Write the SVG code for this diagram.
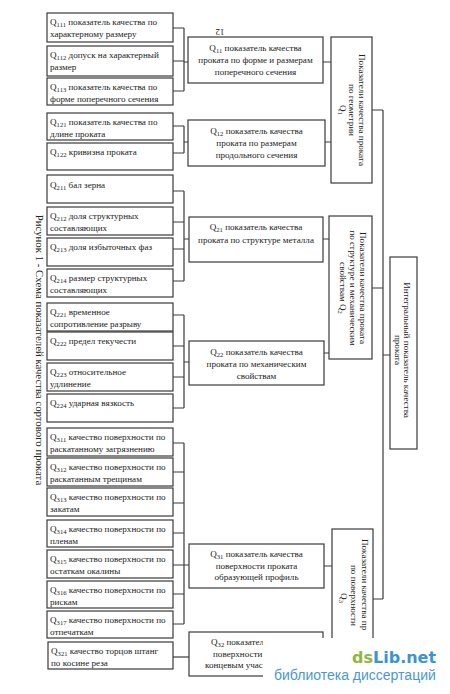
<svg xmlns="http://www.w3.org/2000/svg" width="450" height="694" viewBox="0 0 450 694">
<style>
.b{fill:#fff;stroke:#3a3a3a;stroke-width:1.2}
.c{fill:none;stroke:#3a3a3a;stroke-width:1.2}
text{font-family:"Liberation Serif","DejaVu Serif",serif;font-size:9.1px;fill:#222}
.m{text-anchor:middle}
.s{font-size:6.6px}
.cap{font-size:10.8px}
.wm1{font-family:"DejaVu Sans","Liberation Sans",sans-serif;font-weight:bold;font-size:16px}
.g{fill:#8cb83e}
.bl{fill:#3d94cf}
.wm2{font-family:"Liberation Sans","DejaVu Sans",sans-serif;font-size:14px;fill:#4a98d2}
</style>
<rect width="450" height="694" fill="#fff"/>

<g id="caption">
<text class="cap m" transform="translate(40,350) rotate(90)" y="4">Рисунок 1 - Схема показателей качества сортового проката</text>
</g>
<g id="pagenum"><text class="m" transform="translate(220,32) rotate(180)" y="3.5">12</text></g>

<g id="connectors">
<path class="c" d="M173,28H184M173,61H184M173,91H184M184,28V91M184,62H188"/>
<path class="c" d="M173,126H184M173,153H184M184,126V153M184,142H188"/>
<path class="c" d="M173,191H184M173,222H184M173,249H184M173,281H184M184,191V281M184,239H189"/>
<path class="c" d="M173,315H184M173,346H184M173,377H184M173,408H184M184,315V408M184,362H189"/>
<path class="c" d="M173,443H184M173,472H184M173,503H184M173,533H184M173,565H184M173,594H184M173,624H184M184,443V624M184,565H189"/>
<path class="c" d="M173,657H189"/>
<path class="c" d="M323,62H331M325,142H331M323,239H329M324,353H329M324,566H332"/>
<path class="c" d="M372,110H383M372,288H383M383,355H390M373,599H383M383,110V599"/>
</g>

<g id="Q111"><rect class="b" x="47" y="13" width="126" height="29"/><text x="50" y="25">Q<tspan class="s" dy="2">111</tspan><tspan dy="-2"> показатель качества по</tspan></text><text x="50" y="37">характерному размеру</text></g>
<g id="Q112"><rect class="b" x="47" y="46" width="126" height="30"/><text x="50" y="58">Q<tspan class="s" dy="2">112</tspan><tspan dy="-2"> допуск на характерный</tspan></text><text x="50" y="70">размер</text></g>
<g id="Q113"><rect class="b" x="47" y="78" width="126" height="27"/><text x="50" y="90">Q<tspan class="s" dy="2">113</tspan><tspan dy="-2"> показатель качества по</tspan></text><text x="50" y="102">форме поперечного сечения</text></g>
<g id="Q121"><rect class="b" x="47" y="113" width="126" height="27"/><text x="50" y="125">Q<tspan class="s" dy="2">121</tspan><tspan dy="-2"> показатель качества по</tspan></text><text x="50" y="137">длине проката</text></g>
<g id="Q122"><rect class="b" x="47" y="143" width="126" height="27"/><text x="50" y="155">Q<tspan class="s" dy="2">122</tspan><tspan dy="-2"> кривизна проката</tspan></text></g>
<g id="Q211"><rect class="b" x="47" y="175" width="126" height="28"/><text x="50" y="188">Q<tspan class="s" dy="2">211</tspan><tspan dy="-2"> бал зерна</tspan></text></g>
<g id="Q212"><rect class="b" x="47" y="207" width="126" height="28"/><text x="50" y="219">Q<tspan class="s" dy="2">212</tspan><tspan dy="-2"> доля структурных</tspan></text><text x="50" y="231">составляющих</text></g>
<g id="Q213"><rect class="b" x="47" y="238" width="126" height="28"/><text x="50" y="250">Q<tspan class="s" dy="2">213</tspan><tspan dy="-2"> доля избыточных фаз</tspan></text></g>
<g id="Q214"><rect class="b" x="47" y="269" width="126" height="28"/><text x="50" y="281">Q<tspan class="s" dy="2">214</tspan><tspan dy="-2"> размер структурных</tspan></text><text x="50" y="293">составляющих</text></g>
<g id="Q221"><rect class="b" x="47" y="303" width="126" height="28"/><text x="50" y="315">Q<tspan class="s" dy="2">221</tspan><tspan dy="-2"> временное</tspan></text><text x="50" y="327">сопротивление разрыву</text></g>
<g id="Q222"><rect class="b" x="47" y="332" width="126" height="28"/><text x="50" y="344">Q<tspan class="s" dy="2">222</tspan><tspan dy="-2"> предел текучести</tspan></text></g>
<g id="Q223"><rect class="b" x="47" y="363" width="126" height="28"/><text x="50" y="375">Q<tspan class="s" dy="2">223</tspan><tspan dy="-2"> относительное</tspan></text><text x="50" y="387">удлинение</text></g>
<g id="Q224"><rect class="b" x="47" y="394" width="126" height="28"/><text x="50" y="406">Q<tspan class="s" dy="2">224</tspan><tspan dy="-2"> ударная вязкость</tspan></text></g>
<g id="Q311"><rect class="b" x="47" y="428" width="126" height="28"/><text x="50" y="440">Q<tspan class="s" dy="2">311</tspan><tspan dy="-2"> качество поверхности по</tspan></text><text x="50" y="452">раскатанному загрязнению</text></g>
<g id="Q312"><rect class="b" x="47" y="458" width="126" height="28"/><text x="50" y="470">Q<tspan class="s" dy="2">312</tspan><tspan dy="-2"> качество поверхности по</tspan></text><text x="50" y="482">раскатанным трещинам</text></g>
<g id="Q313"><rect class="b" x="47" y="488" width="126" height="28"/><text x="50" y="500">Q<tspan class="s" dy="2">313</tspan><tspan dy="-2"> качество поверхности по</tspan></text><text x="50" y="512">закатам</text></g>
<g id="Q314"><rect class="b" x="47" y="520" width="126" height="27"/><text x="50" y="532">Q<tspan class="s" dy="2">314</tspan><tspan dy="-2"> качество поверхности по</tspan></text><text x="50" y="544">пленам</text></g>
<g id="Q315"><rect class="b" x="47" y="550" width="126" height="28"/><text x="50" y="562">Q<tspan class="s" dy="2">315</tspan><tspan dy="-2"> качество поверхности по</tspan></text><text x="50" y="574">остаткам окалины</text></g>
<g id="Q316"><rect class="b" x="47" y="581" width="126" height="27"/><text x="50" y="593">Q<tspan class="s" dy="2">316</tspan><tspan dy="-2"> качество поверхности по</tspan></text><text x="50" y="605">рискам</text></g>
<g id="Q317"><rect class="b" x="47" y="611" width="126" height="27"/><text x="50" y="623">Q<tspan class="s" dy="2">317</tspan><tspan dy="-2"> качество поверхности по</tspan></text><text x="50" y="635">отпечаткам</text></g>
<g id="Q321"><rect class="b" x="48" y="642" width="125" height="27"/><text x="51" y="654">Q<tspan class="s" dy="2">321</tspan><tspan dy="-2"> качество торцов штанг</tspan></text><text x="51" y="666">по косине реза</text></g>

<g id="Q11"><rect class="b" x="188" y="37" width="135" height="46"/><text class="m" x="255.5" y="51">Q<tspan class="s" dy="2">11</tspan><tspan dy="-2"> показатель качества</tspan></text><text class="m" x="255.5" y="63">проката по форме и размерам</text><text class="m" x="255.5" y="75">поперечного сечения</text></g>
<g id="Q12"><rect class="b" x="188" y="120" width="137" height="46"/><text class="m" x="256.5" y="134">Q<tspan class="s" dy="2">12</tspan><tspan dy="-2"> показатель качества</tspan></text><text class="m" x="256.5" y="146">проката по размерам</text><text class="m" x="256.5" y="158">продольного сечения</text></g>
<g id="Q21"><rect class="b" x="189" y="217" width="134" height="45"/><text class="m" x="256" y="230">Q<tspan class="s" dy="2">21</tspan><tspan dy="-2"> показатель качества</tspan></text><text class="m" x="256" y="243">проката по структуре металла</text></g>
<g id="Q22"><rect class="b" x="189" y="341" width="135" height="44"/><text class="m" x="256.5" y="355">Q<tspan class="s" dy="2">22</tspan><tspan dy="-2"> показатель качества</tspan></text><text class="m" x="256.5" y="367">проката по механическим</text><text class="m" x="256.5" y="379">свойствам</text></g>
<g id="Q31"><rect class="b" x="189" y="544" width="135" height="44"/><text class="m" x="256.5" y="557">Q<tspan class="s" dy="2">31</tspan><tspan dy="-2"> показатель качества</tspan></text><text class="m" x="256.5" y="569">поверхности проката</text><text class="m" x="256.5" y="580">образующей профиль</text></g>
<g id="Q32"><rect class="b" x="189" y="632" width="134" height="44"/><text x="211" y="645">Q<tspan class="s" dy="2">32</tspan><tspan dy="-2"> показател</tspan></text><text x="213" y="657">поверхности п</text><text x="205" y="668">концевым учас</text></g>

<g id="Q1"><rect class="b" x="331" y="37" width="41" height="146"/>
<g transform="translate(352,110) rotate(90)"><text class="m" y="-6.5">Показатели качества проката</text><text class="m" y="3.5">по геометрии</text><text class="m" y="12.5">Q<tspan class="s" dy="2">1</tspan></text></g></g>
<g id="Q2"><rect class="b" x="329" y="216" width="43" height="143"/>
<g transform="translate(352,288) rotate(90)"><text class="m" y="-7.5">Показатели качества проката</text><text class="m" y="2.5">по структуре и механическим</text><text class="m" y="12.5">свойствам Q<tspan class="s" dy="2">2</tspan></text></g></g>
<g id="Q3"><rect class="b" x="332" y="529" width="41" height="143"/>
<g transform="translate(353,539) rotate(90)"><text x="0" y="-8.5">Показатели качества пр</text><text x="26" y="2.5">по поверхности</text><text class="m" x="59" y="12.5">Q<tspan class="s" dy="2">3</tspan></text></g></g>
<g id="Qint"><rect class="b" x="390" y="257" width="27" height="192"/>
<g transform="translate(403,350) rotate(90)"><text class="m" y="-0.5">Интегральный показатель качества</text><text class="m" y="8.5">проката</text></g></g>

<g id="watermark">
<rect x="263" y="638" width="187" height="56" fill="#fff"/>
<text class="wm1 g" x="352" y="663">ds</text>
<text class="wm1 bl" x="373" y="663">Lib.net</text>
<text class="wm2" x="274" y="680">библиотека диссертаций</text>
</g>
</svg>
